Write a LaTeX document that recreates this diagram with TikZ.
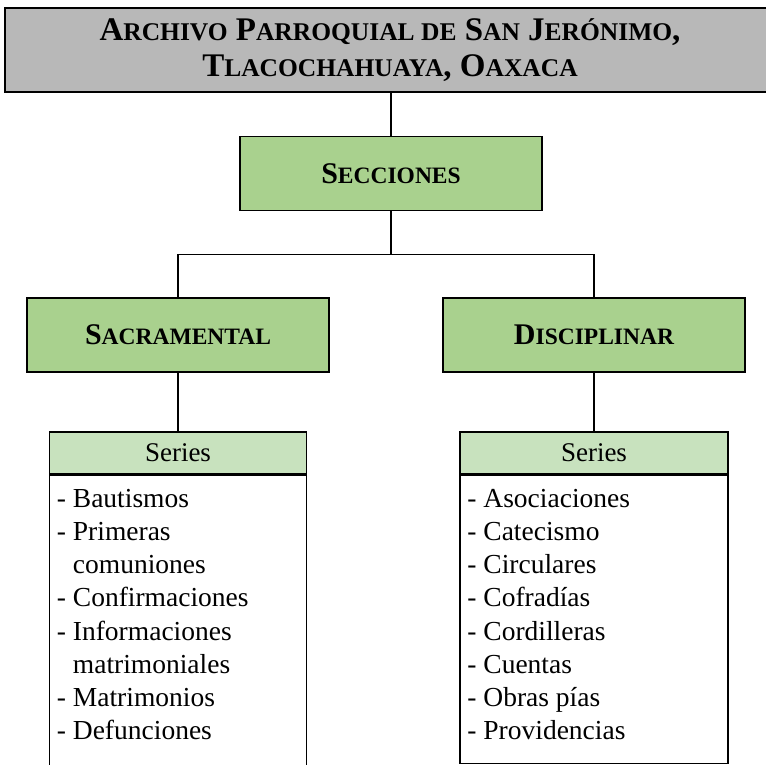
\documentclass[tikz,border=0pt]{standalone}
\usepackage{fontspec}
\setmainfont{Liberation Serif}
\definecolor{titlegray}{HTML}{B8B8B8}
\definecolor{secgreen}{HTML}{A9D18E}
\definecolor{hdrgreen}{HTML}{C8E2BE}
\newcommand\smc[1]{{\fontsize{25.5}{37}\selectfont #1}}
\newcommand\smb[1]{{\fontsize{23.5}{33}\selectfont #1}}
\begin{document}
\begin{tikzpicture}[x=1pt,y=-1pt,
  box/.style={draw=black,line width=1.6pt,rectangle,inner sep=0pt},
  greenbox/.style={box,fill=secgreen,minimum width=302pt,minimum height=74pt,
     font=\bfseries\fontsize{30}{33}\selectfont},
  hdrbox/.style={box,fill=hdrgreen,minimum height=42pt,font=\fontsize{27}{30}\selectfont},
  listbox/.style={box,fill=white,anchor=north},
  listtext/.style={anchor=north west,inner sep=0pt,align=left,font=\fontsize{27.5}{33.2}\selectfont},
  conn/.style={draw=black,line width=1.5pt}]
\clip (0,0) rectangle (766,764);
\fill[white] (0,0) rectangle (766,764);
% nodes
\node[box,fill=titlegray,minimum width=770pt,minimum height=84pt,align=center,
  font=\bfseries\fontsize{33}{36}\selectfont] (title) at (390,50)
  {A\smc{RCHIVO} P\smc{ARROQUIAL DE} S\smc{AN} J\smc{ERÓNIMO},\\ T\smc{LACOCHAHUAYA}, O\smc{AXACA}};
\node[greenbox] (secc) at (391,173.5) {S\smb{ECCIONES}};
\node[greenbox] (sac) at (178,335) {S\smb{ACRAMENTAL}};
\node[greenbox] (dis) at (594,335) {D\smb{ISCIPLINAR}};
\node[hdrbox,minimum width=257pt] (lhead) at (178,453) {Series};
\node[hdrbox,minimum width=268pt] (rhead) at (594,453) {Series};
\node[listbox,minimum width=257pt,minimum height=300pt] (llist) at (lhead.south) {};
\node[listbox,minimum width=268pt,minimum height=288pt] (rlist) at (rhead.south) {};
\node[listtext] (ltext) at ([xshift=8pt,yshift=-14pt]llist.north west)
  {- Bautismos\\- Primeras\\\hspace*{16pt}comuniones\\- Confirmaciones\\- Informaciones\\\hspace*{16pt}matrimoniales\\- Matrimonios\\- Defunciones};
\node[listtext] (rtext) at ([xshift=8pt,yshift=-14pt]rlist.north west)
  {- Asociaciones\\- Catecismo\\- Circulares\\- Cofradías\\- Cordilleras\\- Cuentas\\- Obras pías\\- Providencias};
% connectors
\draw[conn] (title.south -| secc.north) -- (secc.north);
\draw[conn] (secc.south) -- ++(0,43) coordinate (split) -| (sac.north);
\draw[conn] (split) -| (dis.north);
\draw[conn] (sac.south) -- (lhead.north);
\draw[conn] (dis.south) -- (rhead.north);
\end{tikzpicture}
\end{document}
